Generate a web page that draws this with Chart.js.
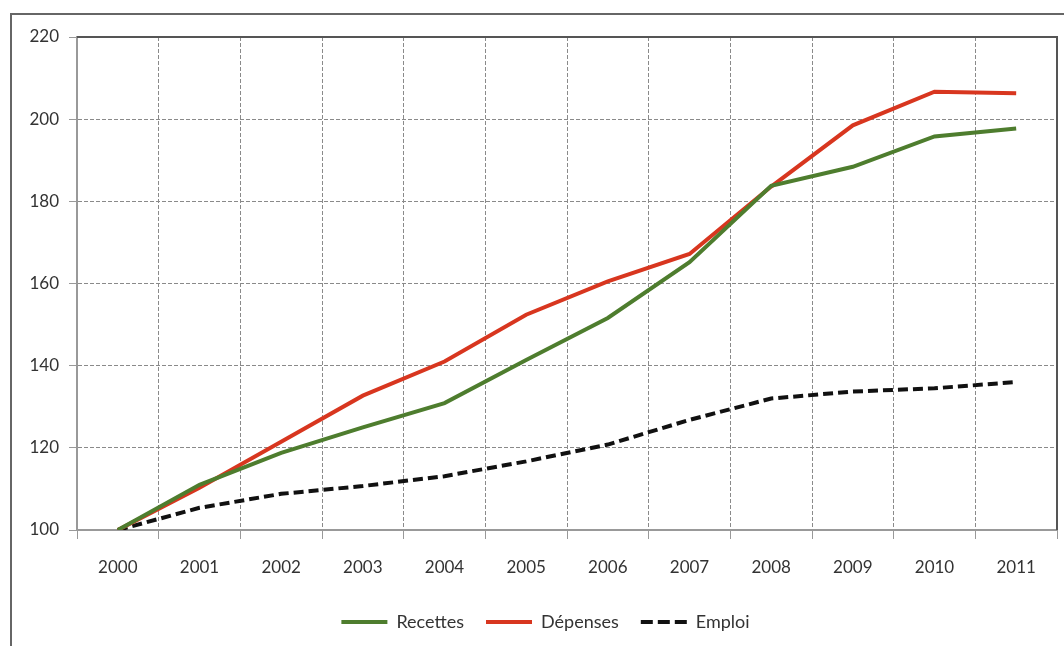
<!DOCTYPE html>
<html lang="fr">
<head>
<meta charset="UTF-8">
<title>Recettes, dépenses et emploi (base 100 en 2000)</title>
<script src="https://cdn.jsdelivr.net/npm/chart.js/dist/chart.umd.min.js"></script>
<style>
  html, body { margin: 0; padding: 0; background: #fff; overflow: hidden; }
  #frame { position: absolute; left: 10px; top: 13px; width: 1100px; height: 700px;
           border: 2px solid #666; box-sizing: border-box; }
  #wrap { position: absolute; left: 0; top: 0; width: 1064px; height: 646px; }
</style>
</head>
<body>
<div id="frame"></div>
<div id="wrap"><canvas id="chart"></canvas></div>
<script>
// index base 100 = 2000
const years = ["2000", "2001", "2002", "2003", "2004", "2005", "2006", "2007", "2008", "2009", "2010", "2011"];
const recettes = [100, 111.0, 118.8, 125.0, 130.9, 141.4, 151.6, 165.2, 183.8, 188.4, 195.8, 197.7];
const depenses = [100, 110.3, 121.5, 132.7, 141.0, 152.4, 160.5, 167.2, 183.6, 198.5, 206.7, 206.3];
const emploi   = [100, 105.4, 108.8, 110.7, 113.1, 116.7, 120.8, 126.8, 132.0, 133.7, 134.5, 136.0];
const yTicks = [100, 120, 140, 160, 180, 200, 220];

const FONT = "Lato, 'Open Sans', sans-serif";

// top and right edges of the plot area
const plotFrame = {
  id: "plotFrame",
  beforeDatasetsDraw(chart) {
    const { ctx, chartArea: a } = chart;
    ctx.save();
    ctx.strokeStyle = "#555";
    ctx.lineWidth = 2;
    ctx.beginPath();
    ctx.moveTo(a.left, a.top);
    ctx.lineTo(a.right, a.top);
    ctx.lineTo(a.right, a.bottom);
    ctx.stroke();
    ctx.restore();
  }
};

// the original legend sits a little right of the canvas centre
const LEGEND_OFFSET = 17;
const legendShift = {
  id: "legendShift",
  afterLayout(chart) {
    chart.legend.left += LEGEND_OFFSET;
    chart.legend.right += LEGEND_OFFSET;
  }
};

new Chart(document.getElementById("chart"), {
  type: "line",
  data: {
    labels: years,
    datasets: [
      { label: "Recettes", data: recettes, borderColor: "#4e7d2e", backgroundColor: "#4e7d2e",
        borderWidth: 4, pointRadius: 0, tension: 0 },
      { label: "Dépenses", data: depenses, borderColor: "#d8361f", backgroundColor: "#d8361f",
        borderWidth: 4, pointRadius: 0, tension: 0 },
      { label: "Emploi", data: emploi, borderColor: "#111", backgroundColor: "#111",
        borderWidth: 4, borderDash: [10, 5], pointRadius: 0, tension: 0 }
    ]
  },
  options: {
    responsive: true,
    maintainAspectRatio: false,
    animation: false,
    layout: { padding: { left: 0, top: 37, right: 7, bottom: 5 } },
    plugins: {
      tooltip: { enabled: false },
      legend: {
        position: "bottom",
        labels: {
          usePointStyle: true,
          pointStyleWidth: 46,
          padding: 22,
          color: "#333",
          font: { family: FONT, size: 18 },
          generateLabels(chart) {
            return chart.data.datasets.map((ds, i) => ({
              text: ds.label,
              fillStyle: ds.borderColor,
              strokeStyle: ds.borderColor,
              fontColor: "#333",
              lineWidth: 4,
              lineDash: ds.borderDash ? [12, 5] : [],
              pointStyle: "line",
              hidden: false,
              datasetIndex: i
            }));
          }
        }
      }
    },
    scales: {
      x: {
        offset: true,
        grid: { offset: true, color: "#8a8a8a", lineWidth: 1, tickLength: 9, tickColor: "#999" },
        border: { color: "#999", width: 2, dash: [4, 2] },
        ticks: { color: "#333", padding: 18, maxRotation: 0, font: { family: FONT, size: 17 } },
        afterFit(scale) { scale.height = 61; }
      },
      y: {
        min: 100,
        max: 220,
        afterBuildTicks(scale) { scale.ticks = yTicks.map(v => ({ value: v })); },
        grid: { color: "#8a8a8a", lineWidth: 1, tickLength: 8, tickColor: "#999" },
        border: { color: "#999", width: 2, dash: [4, 2] },
        ticks: { color: "#333", padding: 10, font: { family: FONT, size: 17 } },
        afterFit(scale) { scale.width = 77; }
      }
    }
  },
  plugins: [plotFrame, legendShift]
});
</script>
</body>
</html>
